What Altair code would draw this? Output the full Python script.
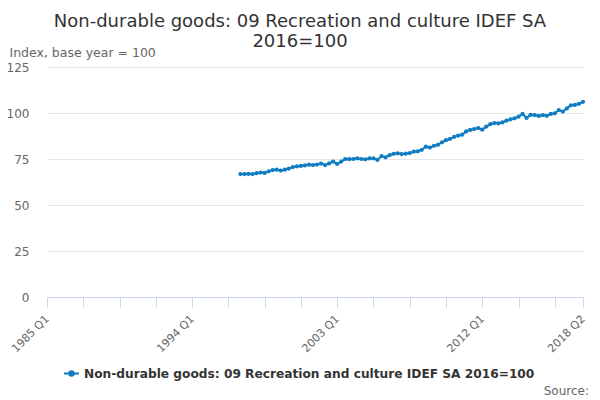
import altair as alt
import pandas as pd

TITLE = ["Non-durable goods: 09 Recreation and culture IDEF SA", "2016=100"]
SERIES = "Non-durable goods: 09 Recreation and culture IDEF SA 2016=100"
Y_TITLE = "Index, base year = 100"
SOURCE = "Source:"

quarters = [f"{y} Q{q}" for y in range(1997, 2019) for q in range(1, 5)][:86]
values = [
    66.8, 66.8, 66.9, 66.8, 67.3, 67.6, 67.4, 68.3, 69.0, 69.2,
    68.7, 69.2, 69.8, 70.6, 71.0, 71.2, 71.5, 71.9, 71.7, 72.0,
    72.5, 71.7, 72.6, 73.6, 72.3, 73.6, 75.0, 74.9, 75.0, 75.4,
    75.0, 74.8, 75.3, 75.4, 74.5, 76.6, 75.9, 77.1, 77.8, 78.1,
    77.7, 77.9, 78.2, 79.0, 79.2, 80.0, 81.7, 81.2, 82.2, 82.7,
    84.1, 85.2, 85.9, 87.0, 87.7, 88.2, 90.0, 90.8, 91.3, 91.8,
    90.9, 92.6, 93.9, 94.5, 94.4, 94.9, 95.8, 96.6, 97.1, 98.0,
    99.5, 97.3, 99.0, 98.9, 98.4, 98.9, 98.5, 99.5, 99.8, 101.6,
    100.8, 102.5, 104.2, 104.4, 105.0, 106.1,
]
tick_labels = ["1985 Q1", "1994 Q1", "2003 Q1", "2012 Q1", "2018 Q2"]
y_ticks = [0, 25, 50, 75, 100, 125]


def qidx(s):
    y, q = s.split(" Q")
    return (int(y) - 1985) * 4 + int(q) - 1


df = pd.DataFrame({"quarter": quarters, "value": values, "series": SERIES})
df["idx"] = df["quarter"].map(qidx)

label_idx = [qidx(s) for s in tick_labels]
x_ticks = list(range(label_idx[0], label_idx[-1] - 6, 9)) + [label_idx[-1]]
label_expr = (
    f"indexof({label_idx}, datum.value) >= 0 ? "
    "(floor(datum.value / 4) + 1985) + ' Q' + (datum.value % 4 + 1) : ''"
)

BLUE = "#0f7dc2"
GREY = "#666666"

line = alt.Chart(df).mark_line(
    strokeWidth=2,
    point=alt.OverlayMarkDef(filled=True, size=18, color=BLUE),
).encode(
    x=alt.X(
        "idx:Q",
        scale=alt.Scale(domain=[label_idx[0], label_idx[-1]], nice=False, zero=False),
        axis=alt.Axis(
            title=None,
            values=x_ticks,
            labelExpr=label_expr,
            labelAngle=-45,
            labelAlign="right",
            labelBaseline="middle",
            labelPadding=10,
            labelColor=GREY,
            labelFontSize=11,
            tickSize=10,
            tickColor="#ccd6eb",
            domainColor="#ccd6eb",
            grid=False,
            labelOverlap=False,
            labelBound=False,
            labelFlush=False,
        ),
    ),
    y=alt.Y(
        "value:Q",
        scale=alt.Scale(domain=[0, 125], nice=False),
        axis=alt.Axis(
            title=Y_TITLE,
            titleAngle=0,
            titleAlign="left",
            titleBaseline="alphabetic",
            titleX=-38,
            titleY=-11,
            titleFontWeight="normal",
            titleFontSize=12.5,
            titleColor=GREY,
            values=y_ticks,
            ticks=False,
            domain=False,
            labelColor=GREY,
            labelFontSize=12,
            labelPadding=18,
            gridColor="#e6e6e6",
        ),
    ),
    color=alt.Color(
        "series:N",
        scale=alt.Scale(range=[BLUE]),
        legend=alt.Legend(
            title=None,
            orient="none",
            legendX=16,
            legendY=298,
            symbolType="M-1,0H1M-0.3,0a0.3,0.3 0 1,0 0.6,0a0.3,0.3 0 1,0 -0.6,0",
            symbolSize=225,
            symbolStrokeWidth=2,
            labelFontSize=12.2,
            labelFontWeight="bold",
            labelColor="#333333",
            labelLimit=0,
        ),
    ),
)

source = alt.Chart(pd.DataFrame({"t": [SOURCE]})).mark_text(
    align="right", baseline="alphabetic", fontSize=12, color=GREY
).encode(text="t:N", x=alt.value(542), y=alt.value(328))

chart = alt.layer(line, source).properties(
    width=536,
    height=230,
    autosize=alt.AutoSizeParams(type="none"),
    padding={"left": 39, "top": 59, "right": 9, "bottom": 103},
    title=alt.TitleParams(
        text=TITLE,
        fontSize=18,
        fontWeight="normal",
        color="#333333",
        anchor="middle",
        dx=-15,
        offset=-5,
    ),
).configure(font="DejaVu Sans").configure_view(stroke=None)

chart.save("out.html", embed_options={"renderer": "svg", "actions": False})
